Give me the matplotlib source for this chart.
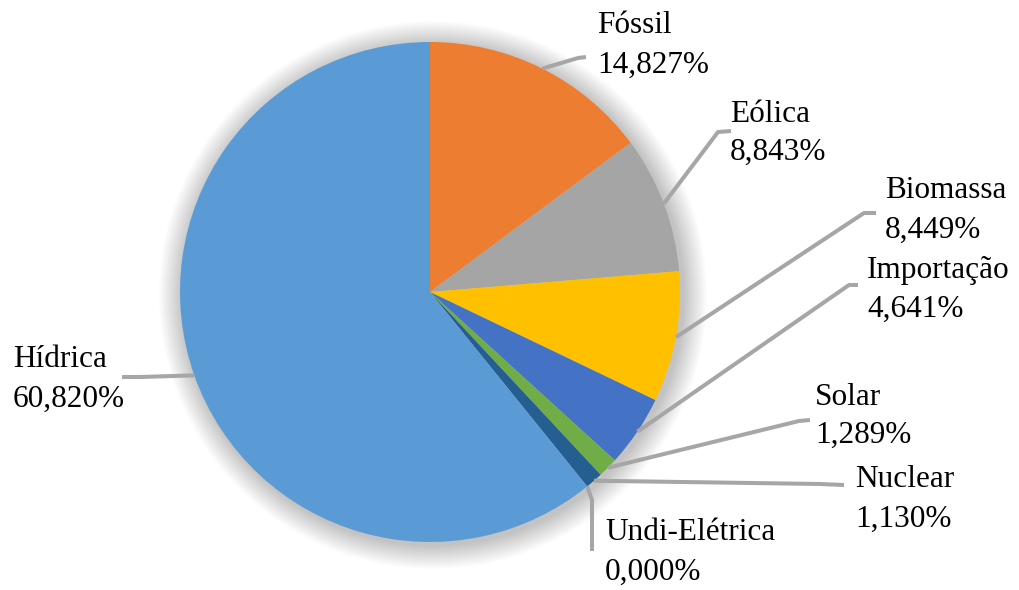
import matplotlib
matplotlib.use("Agg")
import matplotlib.pyplot as plt
import numpy as np
from matplotlib.patches import Circle

# ---- data ----
categories = ["Fóssil", "Eólica", "Biomassa", "Importação", "Solar", "Nuclear", "Undi-Elétrica", "Hídrica"]
values = [14.827, 8.843, 8.449, 4.641, 1.289, 1.130, 0.000, 60.820]
value_labels = ["14,827%", "8,843%", "8,449%", "4,641%", "1,289%", "1,130%", "0,000%", "60,820%"]
colors = ["#ED7D31", "#A5A5A5", "#FFC000", "#4472C4", "#70AD47", "#255E91", "#9E480E", "#5B9BD5"]

# ---- layout (pixel coordinates, y measured from top) ----
W, H = 1019, 590
CX, CY, R = 430, 292, 250
# text left x, name baseline y, value baseline y
label_pos = [(597, 33, 73), (730, 122, 160), (885, 198, 238), (867, 278, 317),
             (815, 405, 443), (855, 487, 527), (605, 540, 580), (13, 367, 407)]
# leader-line elbow and end points
leader_pts = [[(578, 58), (586, 57)], [(718, 132), (731, 131)], [(864, 213), (876, 213)],
              [(849, 285), (858, 285)], [(799, 421), (810, 420)], [(820, 484), (844, 485)],
              [(592, 500), (592, 551)], [(140, 377), (122, 377)]]

fig = plt.figure(figsize=(W / 100, H / 100), dpi=100)
ax = fig.add_axes([0, 0, 1, 1])

def Y(y):
    return H - y

# soft shadow
for i in range(30):
    ax.add_patch(Circle((CX + 3, Y(CY) - 3), R + 1 + i * 0.8, color="black", alpha=0.007,
                        lw=0, zorder=0))

wedges, _ = ax.pie(values, colors=colors, startangle=90, counterclock=False,
                   center=(CX, Y(CY)), radius=R, frame=True,
                   wedgeprops=dict(linewidth=0))
ax.set_xlim(0, W)
ax.set_ylim(0, H)
ax.set_aspect("equal")
ax.axis("off")

font = dict(family=["Liberation Serif", "DejaVu Serif"], size=22.5, color="black")
for w, name, vl, (tx, ny, vy), pts in zip(wedges, categories, value_labels, label_pos, leader_pts):
    ang = np.deg2rad((w.theta1 + w.theta2) / 2)
    sx = CX + R * np.cos(ang)
    sy = Y(CY) + R * np.sin(ang)
    xs = [sx] + [p[0] for p in pts]
    ys = [sy] + [Y(p[1]) for p in pts]
    ax.plot(xs, ys, color="#A6A6A6", lw=2.9, solid_capstyle="butt",
            solid_joinstyle="round", zorder=3)
    ax.text(tx, Y(ny), name, ha="left", va="baseline", **font)
    ax.text(tx, Y(vy), vl, ha="left", va="baseline", **font)

fig.savefig("out.png", dpi=100)
